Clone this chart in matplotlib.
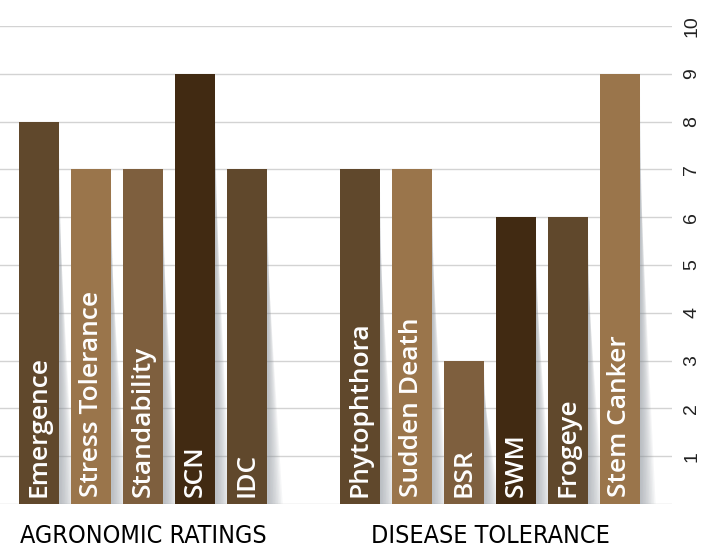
import numpy as np
import matplotlib.pyplot as plt
from matplotlib.patches import Polygon

# data
agro_names = ['Emergence', 'Stress Tolerance', 'Standability', 'SCN', 'IDC']
agro_vals = [8, 7, 7, 9, 7]
dis_names = ['Phytophthora', 'Sudden Death', 'BSR', 'SWM', 'Frogeye', 'Stem Canker']
dis_vals = [7, 7, 3, 6, 6, 9]
group_names = ['AGRONOMIC RATINGS', 'DISEASE TOLERANCE']
y_ticks = [1, 2, 3, 4, 5, 6, 7, 8, 9, 10]

dark = '#60482c'
tan = '#9a754b'
mid = '#7e5f3e'
darkest = '#412a12'
agro_colors = [dark, tan, mid, darkest, dark]
dis_colors = [dark, tan, mid, darkest, dark, tan]

gap = 1.17
width = 0.77
x_agro = np.arange(len(agro_vals))
x_dis = len(agro_vals) + gap + np.arange(len(dis_vals))

fig = plt.figure(figsize=(7.14, 5.57), dpi=100)
ax = fig.add_axes([0, 1 - 504 / 557, 672 / 714, 478 / 557])

xs = np.concatenate([x_agro, x_dis])
vals = agro_vals + dis_vals
names = agro_names + dis_names
cols = agro_colors + dis_colors

# soft shadow to the right of each bar
for x, v in zip(xs, vals):
    xr = x + width / 2
    for k in range(10):
        w = 0.3 * (k + 1) / 10
        ax.add_patch(Polygon([(xr, v * (0.98 - 0.025 * k)), (xr + w, 0), (xr, 0)],
                             closed=True, facecolor='#8a9199', edgecolor='none',
                             alpha=0.08, zorder=1))

ax.bar(xs, vals, width=width, color=cols, zorder=2)

for x, name in zip(xs, names):
    ax.text(x, 0.15, name, rotation=90, ha='center', va='bottom', color='white',
            fontsize=19, family='Open Sans', weight='semibold', zorder=3)

for gx, gname in zip([np.mean(x_agro), np.mean(x_dis)], group_names):
    ax.text(gx, -0.082, gname, transform=ax.get_xaxis_transform(),
            ha='center', va='baseline', fontsize=18,
            family=['Liberation Sans Narrow', 'DejaVu Sans'], stretch='condensed')

ax.set_xlim(-0.75, 12.17)
ax.set_ylim(0, 10)
ax.set_yticks([0] + y_ticks)
ax.set_yticklabels([''] + [str(t) for t in y_ticks])
ax.yaxis.tick_right()
ax.tick_params(axis='y', length=0, pad=8, labelsize=14, labelcolor='#222222', labelrotation=90)
for lab in ax.get_yticklabels():
    lab.set_va('center')
    lab.set_family('Liberation Sans')
ax.set_xticks([])
ax.grid(axis='y', color='#d3d3d3', linewidth=1, zorder=0)
ax.set_axisbelow(True)
for s in ax.spines.values():
    s.set_visible(False)

fig.savefig('out.png', dpi=100)
